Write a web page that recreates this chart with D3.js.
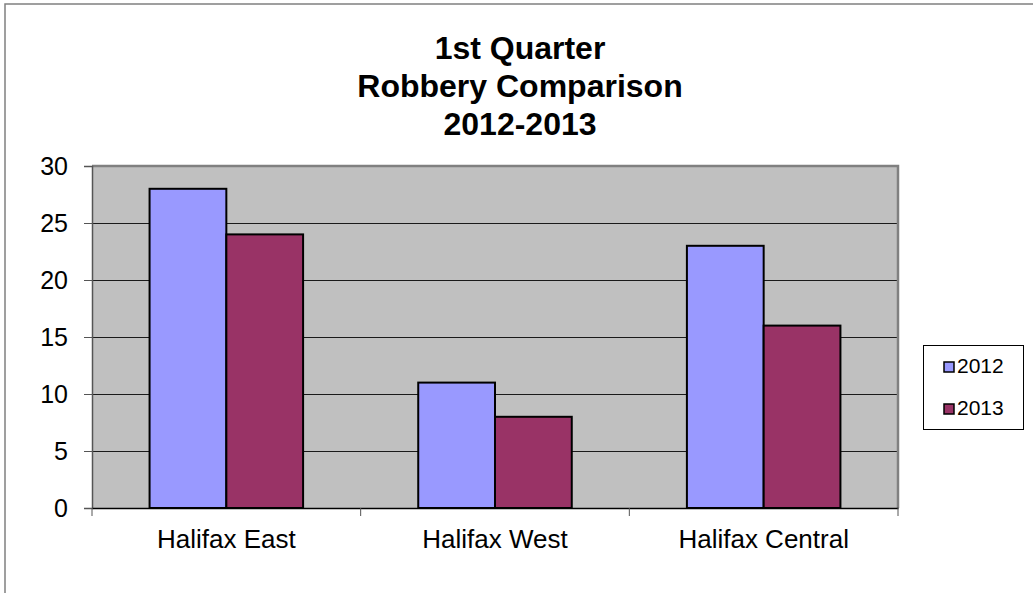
<!DOCTYPE html>
<html>
<head>
<meta charset="utf-8">
<script src="https://cdn.jsdelivr.net/npm/d3@7"></script>
<style>
  body { margin: 0; background: #fff; }
  svg { display: block; font-family: "Liberation Sans", Arial, sans-serif; }
</style>
</head>
<body>
<div id="chart"></div>
<script>
// chart data
const categories = ["Halifax East", "Halifax West", "Halifax Central"];
const seriesNames = ["2012", "2013"];
const values2012 = [28, 11, 23];
const values2013 = [24, 8, 16];
const yTicks = [0, 5, 10, 15, 20, 25, 30];
const titleLines = ["1st Quarter", "Robbery Comparison", "2012-2013"];

const width = 1033, height = 593;
const colors = { "2012": "#9999ff", "2013": "#993366" };
const plot = { left: 92, top: 166, right: 898, bottom: 508 };

const svg = d3.select("#chart")
  .append("svg")
  .attr("width", width)
  .attr("height", height);

// outer chart frame (cut off at right/bottom like the source)
svg.append("rect")
  .attr("x", 5).attr("y", 4)
  .attr("width", 1200).attr("height", 800)
  .attr("fill", "none")
  .attr("stroke", "#808080")
  .attr("stroke-width", 1.5);

// title
svg.append("text")
  .attr("text-anchor", "middle")
  .style("font-size", "32px")
  .style("font-weight", "bold")
  .selectAll("tspan")
  .data(titleLines)
  .enter()
  .append("tspan")
  .attr("x", 520)
  .attr("y", (d, i) => 59 + i * 38)
  .text(d => d);

const x0 = d3.scaleBand()
  .domain(categories)
  .range([plot.left, plot.right])
  .paddingInner(0)
  .paddingOuter(0);

const x1 = d3.scaleBand()
  .domain(seriesNames)
  .range([0, x0.bandwidth()])
  .paddingInner(0)
  .paddingOuter(0.75);

const y = d3.scaleLinear()
  .domain([0, 30])
  .range([plot.bottom, plot.top]);

// plot background
svg.append("rect")
  .attr("x", plot.left).attr("y", plot.top)
  .attr("width", plot.right - plot.left)
  .attr("height", plot.bottom - plot.top)
  .attr("fill", "#c0c0c0");

// gridlines
svg.append("g")
  .selectAll("line")
  .data(yTicks.filter(t => t > 0 && t < 30))
  .enter()
  .append("line")
  .attr("x1", plot.left).attr("x2", plot.right)
  .attr("y1", d => y(d) + 0.5).attr("y2", d => y(d) + 0.5)
  .attr("stroke", "#1a1a1a")
  .attr("stroke-width", 1);

// plot border top & right
svg.append("path")
  .attr("d", `M${plot.left},${plot.top} H${plot.right} V${plot.bottom}`)
  .attr("fill", "none")
  .attr("stroke", "#808080")
  .attr("stroke-width", 2.5);

// bars
const rows = categories.map((c, i) => ({ category: c, "2012": values2012[i], "2013": values2013[i] }));

svg.append("g")
  .selectAll("g")
  .data(rows)
  .enter()
  .append("g")
  .attr("transform", d => `translate(${x0(d.category)},0)`)
  .selectAll("rect")
  .data(d => seriesNames.map(s => ({ key: s, value: d[s] })))
  .enter()
  .append("rect")
  .attr("x", d => x1(d.key))
  .attr("y", d => y(d.value))
  .attr("width", x1.bandwidth())
  .attr("height", d => plot.bottom - y(d.value))
  .attr("fill", d => colors[d.key])
  .attr("stroke", "#000")
  .attr("stroke-width", 2);

// y axis
const yAxis = svg.append("g")
  .attr("transform", `translate(${plot.left},0)`)
  .call(d3.axisLeft(y).tickValues(yTicks).tickSize(8).tickPadding(16));
yAxis.select(".domain").attr("stroke", "#555").attr("stroke-width", 1.5);
yAxis.selectAll(".tick line").attr("stroke", "#555");
yAxis.selectAll("text")
  .style("font-size", "25px")
  .style("font-family", "'Liberation Sans', Arial, sans-serif")
  .attr("fill", "#000");

// x axis
const xAxis = svg.append("g")
  .attr("transform", `translate(0,${plot.bottom})`)
  .call(d3.axisBottom(x0).tickSize(0).tickPadding(22));
xAxis.select(".domain").attr("stroke", "#000").attr("stroke-width", 1.5);
xAxis.selectAll("text")
  .style("font-size", "26px")
  .style("font-family", "'Liberation Sans', Arial, sans-serif")
  .attr("fill", "#000");

// x tick marks at category boundaries
const bounds = categories.map(c => x0(c)).concat([plot.right]);
svg.append("g")
  .selectAll("line")
  .data(bounds)
  .enter()
  .append("line")
  .attr("x1", d => d).attr("x2", d => d)
  .attr("y1", plot.bottom).attr("y2", plot.bottom + 8)
  .attr("stroke", "#555")
  .attr("stroke-width", 1);

// legend
const legend = svg.append("g");
legend.append("rect")
  .attr("x", 923.5).attr("y", 345.5)
  .attr("width", 100).attr("height", 84)
  .attr("fill", "#fff")
  .attr("stroke", "#000")
  .attr("stroke-width", 1);

const items = legend.selectAll(".legend-item")
  .data(seriesNames)
  .enter()
  .append("g")
  .attr("class", "legend-item")
  .attr("transform", (d, i) => `translate(0,${i * 42})`);

items.append("rect")
  .attr("x", 944).attr("y", 362)
  .attr("width", 10).attr("height", 10)
  .attr("fill", d => colors[d])
  .attr("stroke", "#000")
  .attr("stroke-width", 1.5);

items.append("text")
  .attr("x", 957).attr("y", 373)
  .style("font-size", "21px")
  .text(d => d);
</script>
</body>
</html>
